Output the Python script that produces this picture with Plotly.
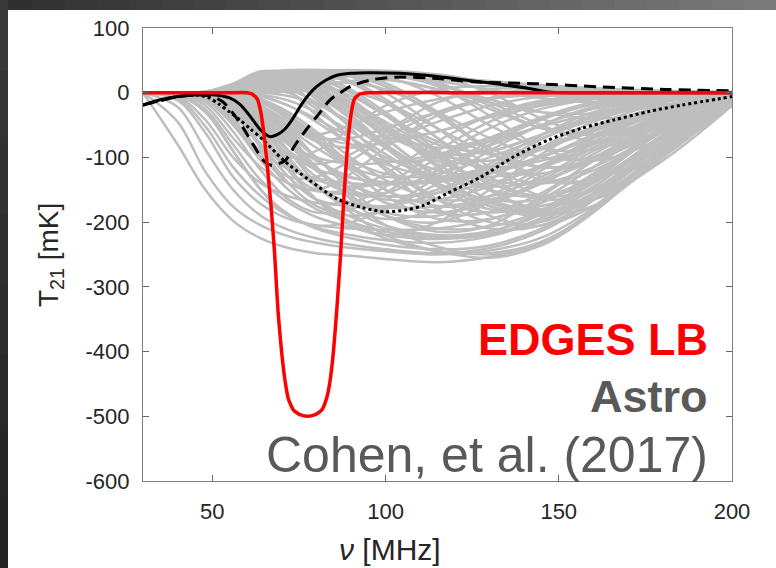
import plotly.graph_objects as go

# ---------------- data ----------------
NU_GRID = [30, 40, 48, 56, 64, 72, 80, 90, 100, 115, 130, 145, 160, 180, 200]

GRAY_FAN = [
    [0, -80, -150, -198, -225, -240, -248, -252, -257, -262, -254, -232, -182, -88, -15],
    [0, -45, -122, -176, -205, -222, -232, -240, -245, -250, -244, -224, -178, -90, -18],
    [0, -22, -88, -150, -190, -212, -225, -235, -242, -248, -240, -214, -166, -80, -12],
    [0, -9, -52, -115, -160, -190, -208, -220, -228, -232, -222, -194, -146, -68, -8],
    [0, -3, -26, -80, -135, -170, -192, -208, -220, -226, -215, -184, -132, -58, -5],
    [0, -1, -11, -50, -105, -150, -180, -200, -215, -225, -220, -198, -156, -80, -16],
    [0, 0, -5, -30, -80, -130, -165, -192, -210, -222, -218, -194, -146, -66, -6],
    [0, 0, -2, -15, -55, -105, -145, -180, -205, -220, -214, -188, -136, -58, -4],
    [0, 0, -1, -8, -35, -80, -120, -160, -190, -210, -207, -182, -130, -52, -3],
    [0, -6, -42, -100, -140, -160, -170, -175, -178, -176, -165, -140, -100, -45, -4],
    [0, -2, -20, -70, -115, -140, -152, -158, -160, -155, -140, -115, -80, -35, -3],
    [0, -1, -10, -45, -90, -118, -132, -140, -142, -138, -125, -100, -70, -30, -2],
    [0, 0, -5, -25, -60, -95, -118, -132, -138, -135, -122, -98, -68, -28, -2],
    [0, -12, -62, -130, -172, -195, -205, -210, -212, -210, -196, -170, -128, -60, -8],
    [0, -3, -30, -90, -150, -188, -210, -225, -235, -242, -236, -210, -165, -82, -10],
    [0, 0, -3, -20, -65, -120, -165, -200, -225, -245, -248, -230, -184, -96, -20],
    [0, 0, -1, -10, -40, -90, -140, -185, -220, -245, -255, -236, -185, -88, -14],
    [0, 0, 0, -5, -25, -65, -115, -165, -205, -238, -250, -232, -182, -85, -12],
]

GRAY_EMISSION = [
    [0, 0, 1, 10, 32, 32, 20, -10, -50, -110, -150, -160, -130, -60, -8],
    [0, 0, 1, 8, 28, 35, 30, 15, -15, -70, -120, -140, -120, -60, -8],
    [0, 0, 0, 4, 20, 34, 35, 28, 10, -35, -85, -115, -105, -55, -6],
    [0, 0, 0, 2, 12, 28, 34, 33, 25, -5, -50, -85, -88, -50, -6],
    [0, 0, 0, 1, 6, 20, 32, 35, 32, 15, -20, -55, -65, -40, -5],
    [0, 0, 1, 12, 33, 25, 0, -40, -85, -145, -180, -180, -145, -70, -10],
    [0, 0, 2, 14, 32, 15, -20, -70, -120, -180, -210, -205, -165, -80, -12],
    [0, 0, 1, 9, 29, 22, -5, -55, -105, -165, -200, -200, -160, -80, -12],
    [0, 0, 1, 7, 24, 30, 20, -10, -50, -115, -165, -180, -150, -75, -10],
    [0, 0, 0, 3, 15, 28, 30, 18, -10, -70, -130, -165, -150, -80, -12],
    [0, 0, 0, 2, 10, 22, 30, 30, 15, -30, -90, -135, -135, -75, -10],
    [0, 0, 0, 1, 5, 15, 26, 32, 30, 10, -35, -85, -105, -70, -10],
    [0, 0, 0, 0, 3, 10, 20, 30, 33, 25, 0, -40, -65, -50, -8],
    [0, 0, 1, 8, 30, 30, 12, -25, -70, -130, -175, -190, -165, -90, -15],
    [0, 0, 0, 5, 22, 34, 28, 5, -30, -90, -150, -185, -175, -100, -18],
    [0, 0, 0, 3, 14, 28, 33, 25, 0, -55, -115, -160, -165, -105, -20],
]

GRAY_POSITIVE = [
    [0, 0, 0, 2, 15, 30, 35, 34, 32, 25, 18, 12, 7, 3, 1],
    [0, 0, 0, 0, 5, 18, 30, 33, 31, 24, 16, 9, 5, 2, 0],
    [0, 0, 1, 8, 28, 34, 33, 30, 26, 20, 15, 10, 6, 3, 1],
    [0, 0, 0, 1, 8, 22, 32, 34, 30, 18, 5, -8, -15, -12, -3],
    [0, 0, 0, 0, 2, 8, 18, 28, 32, 28, 15, 0, -15, -18, -5],
]

GRAY_RECOVER = [
    [0, 0, -2, -20, -70, -100, -90, -55, -20, 5, 10, 8, 5, 2, 0],
    [0, 0, -1, -10, -45, -90, -110, -95, -60, -15, 5, 6, 4, 2, 0],
    [0, -1, -8, -40, -95, -140, -150, -125, -85, -35, -10, -3, 0, 0, 0],
    [0, 0, -3, -25, -70, -120, -150, -150, -125, -75, -35, -12, -4, -1, 0],
    [0, 0, -1, -12, -45, -90, -130, -155, -155, -120, -75, -38, -15, -4, 0],
    [0, 0, 0, -5, -25, -60, -100, -140, -160, -150, -110, -65, -30, -8, -1],
    [0, -2, -15, -60, -120, -165, -185, -180, -155, -100, -55, -25, -10, -3, 0],
    [0, 0, -4, -30, -85, -140, -175, -190, -180, -140, -90, -50, -22, -6, -1],
    [0, 0, -1, -15, -50, -100, -145, -180, -195, -180, -135, -85, -45, -12, -2],
    [0, 0, 0, -6, -30, -70, -115, -160, -190, -200, -170, -120, -70, -22, -3],
    [0, -4, -30, -90, -150, -190, -205, -200, -180, -130, -80, -42, -18, -5, -1],
    [0, 0, -2, -18, -60, -115, -165, -205, -220, -200, -150, -95, -52, -15, -2],
    [0, 0, 0, -4, -20, -55, -100, -150, -190, -215, -205, -160, -105, -38, -5],
    [0, 0, 0, -2, -10, -35, -70, -115, -150, -175, -170, -140, -95, -38, -5],
    [0, 0, 0, 0, -5, -20, -45, -80, -110, -130, -125, -100, -65, -25, -3],
    [0, 0, -1, -8, -30, -55, -70, -70, -55, -30, -10, 0, 2, 1, 0],
    [0, 0, 0, -3, -15, -40, -65, -80, -78, -60, -38, -20, -8, -2, 0],
]

GRAY_DIP = [
    [0, 0, 1, 10, 30, 20, -10, -50, -70, -60, -35, -15, -5, -1, 0],
    [0, 0, 1, 8, 24, 28, 10, -25, -60, -85, -70, -40, -18, -5, -1],
    [0, 0, 2, 12, 30, 5, -35, -80, -105, -100, -70, -38, -15, -4, 0],
    [0, 0, 0, 4, 18, 30, 25, 0, -35, -80, -90, -65, -35, -10, -1],
]

GRAY_MID = [
    [0, 0, -1, -10, -40, -75, -105, -130, -140, -135, -115, -85, -55, -22, -3],
    [0, 0, 0, -4, -20, -45, -75, -105, -125, -130, -115, -88, -58, -24, -3],
    [0, 0, 0, 2, 8, 5, -15, -50, -85, -120, -130, -115, -85, -40, -6],
    [0, 0, 0, 1, 10, 15, 5, -25, -60, -100, -115, -105, -78, -38, -5],
    [0, 0, 0, 3, 18, 25, 15, -15, -55, -105, -135, -140, -115, -60, -9],
    [0, 0, -2, -15, -50, -90, -120, -150, -165, -165, -145, -112, -75, -30, -4],
    [0, 0, -1, -6, -30, -65, -100, -140, -170, -185, -170, -135, -90, -36, -5],
    [0, 0, 0, -3, -15, -40, -75, -120, -160, -195, -195, -165, -115, -48, -7],
    [0, 0, 0, 1, 4, 0, -25, -70, -115, -165, -185, -170, -125, -55, -8],
    [0, 0, 0, 2, 12, 18, 8, -25, -70, -130, -170, -175, -140, -65, -10],
    [0, 0, 0, 0, 2, 6, 4, -15, -45, -90, -120, -125, -100, -50, -7],
    [0, 0, 0, 0, 0, 2, 5, 2, -15, -55, -95, -115, -105, -58, -9],
    [0, 0, 0, 0, 1, 5, 12, 15, 5, -30, -70, -100, -100, -60, -10],
    [0, 0, 0, 0, 0, 3, 10, 18, 20, 5, -25, -55, -65, -45, -8],
    [0, 0, -1, -12, -45, -80, -100, -110, -108, -95, -75, -52, -32, -12, -2],
    [0, 0, 0, -5, -25, -55, -85, -115, -130, -125, -100, -70, -42, -15, -2],
    [0, -1, -6, -35, -80, -115, -135, -145, -140, -115, -82, -50, -25, -8, -1],
    [0, 0, -2, -20, -65, -110, -145, -170, -175, -155, -115, -72, -38, -12, -2],
    [0, 0, 0, -8, -35, -75, -115, -160, -185, -190, -160, -115, -70, -25, -3],
    [0, 0, 0, -2, -12, -35, -65, -110, -150, -185, -185, -155, -105, -42, -6],
    [0, 0, 0, 2, 10, 10, -5, -40, -80, -140, -175, -185, -155, -75, -12],
    [0, 0, 1, 6, 22, 20, 0, -35, -80, -140, -190, -205, -175, -90, -15],
    [0, 0, 0, 2, 14, 26, 22, 0, -35, -95, -150, -180, -165, -95, -17],
    [0, 0, 0, 0, 4, 14, 24, 25, 10, -35, -90, -130, -135, -85, -14],
    [0, 0, 0, 0, 1, 6, 16, 26, 28, 15, -15, -50, -75, -60, -10],
    [0, 0, 0, 0, 2, 10, 22, 30, 28, 12, -10, -30, -40, -30, -5],
    [0, 0, 0, 1, 8, 24, 32, 30, 22, 5, -15, -30, -32, -20, -3],
    [0, 0, 0, 0, 3, 12, 25, 33, 34, 28, 15, 2, -8, -10, -3],
    [0, 0, -1, -8, -35, -60, -65, -50, -30, -10, 0, 3, 3, 1, 0],
    [0, 0, 0, -3, -20, -50, -75, -85, -75, -45, -20, -6, -1, 0, 0],
    [0, -1, -10, -45, -100, -130, -130, -105, -70, -30, -8, 0, 1, 0, 0],
    [0, 0, -3, -25, -80, -130, -165, -170, -145, -90, -45, -18, -6, -1, 0],
    [0, 0, 0, -2, -10, -30, -60, -100, -135, -165, -160, -130, -85, -32, -4],
    [0, 0, 0, 3, 16, 22, 10, -20, -55, -95, -105, -85, -55, -20, -3],
    [0, 0, 1, 8, 26, 25, 5, -30, -65, -95, -90, -65, -38, -13, -2],
    [0, 0, 0, 1, 6, 14, 12, -5, -35, -75, -95, -85, -60, -25, -4],
    [0, 0, 0, -1, -6, -20, -40, -70, -100, -130, -145, -135, -105, -50, -8],
    [0, 0, 0, 0, -3, -12, -30, -60, -95, -140, -165, -165, -135, -70, -12],
    [0, 0, 0, 0, 0, -5, -18, -45, -80, -130, -170, -185, -165, -95, -18],
    [0, 0, 0, 1, 5, 8, 2, -20, -50, -100, -140, -160, -150, -90, -16],
]

SOLID_NU = [30, 35, 40, 46, 50, 55, 58, 61, 64, 66.7, 69, 71, 73, 76, 78, 80, 83, 86,
            90, 95, 104, 115, 124, 133, 141, 147, 155, 200]
SOLID_T = [-19, -11, -6, -3, -3, -8, -18, -37, -58, -68, -64, -56, -42, -16, -2, 9, 20, 27,
           30, 31, 30, 25, 19, 13, 7, 1, 0, 0]

DASH_NU = [30, 40, 46, 50, 53, 56, 59, 62, 65, 67, 69, 71, 74, 77, 80, 84, 87, 90, 96,
           103, 115, 125, 143, 162, 181, 200]
DASH_T = [-19, -6, -3, -6, -14, -32, -55, -82, -106, -112, -110, -105, -80, -58, -38, -11,
          0, 10, 20, 24, 22, 17, 14, 9, 5, 3]

DOT_NU = [30, 40, 46, 49, 52, 55, 58, 61, 64.7, 70.5, 78, 86, 93.6, 100, 106, 111, 118,
          127.6, 137, 147, 156.6, 166, 176, 185.6, 200]
DOT_T = [-19, -6, -4, -8, -18, -30, -42, -56, -73, -104, -135, -164, -178, -184, -181, -174,
         -155, -130, -99, -73, -55, -42, -29, -19, -6]

EDGES_NU = [30, 55, 60, 61.5, 63, 64, 65, 66, 67, 68, 69, 70, 71, 72, 73.5, 75.5, 77.5, 79.5,
            81.5, 83, 84, 85, 86, 87, 88, 89, 90, 91, 92.5, 95, 120, 200]
EDGES_T = [0, 0, 0, -2, -10, -30, -68, -120, -178, -250, -340, -400, -445, -474, -491, -498,
           -500, -498, -491, -472, -445, -398, -330, -253, -160, -85, -35, -10, -2, 0, 0, 0]

X_TICKS = [50, 100, 150, 200]
Y_TICKS = [100, 0, -100, -200, -300, -400, -500, -600]

# ---------------- figure ----------------
fig = go.Figure()

GRAY = "#BEBEBE"
for group in (GRAY_FAN, GRAY_EMISSION, GRAY_POSITIVE, GRAY_RECOVER, GRAY_DIP, GRAY_MID):
    for curve in group:
        fig.add_trace(go.Scatter(x=NU_GRID, y=curve, mode="lines",
                                 line=dict(color=GRAY, width=2.5, shape="spline", smoothing=1.0),
                                 hoverinfo="skip"))

fig.add_trace(go.Scatter(x=DOT_NU, y=DOT_T, mode="lines",
                         line=dict(color="black", width=3, dash="dot", shape="spline", smoothing=0.8)))
fig.add_trace(go.Scatter(x=DASH_NU, y=DASH_T, mode="lines",
                         line=dict(color="black", width=3, dash="12px,7px", shape="spline", smoothing=0.8)))
fig.add_trace(go.Scatter(x=SOLID_NU, y=SOLID_T, mode="lines",
                         line=dict(color="black", width=3, shape="spline", smoothing=0.8)))
fig.add_trace(go.Scatter(x=EDGES_NU, y=EDGES_T, mode="lines",
                         line=dict(color="#FF0000", width=3.5, shape="spline", smoothing=0.5)))

# plot-area geometry in pixels
W, H = 776, 568
L, R, T, B = 143, 732, 28, 481


def px_x(p):
    return (p - L) / (R - L)


def px_y(p):
    return (B - p) / (B - T)


shapes = []
# dark frame: top gradient band and left strip
n = 24
for i in range(n):
    x0 = W * i / n
    x1 = W * (i + 1) / n + 1
    v = int(0x30 + (0x7a - 0x30) * i / (n - 1))
    col = "#%02x%02x%02x" % (v, v, v)
    shapes.append(dict(type="rect", xref="paper", yref="paper",
                       x0=px_x(x0), x1=px_x(x1), y0=px_y(10), y1=px_y(-2),
                       fillcolor=col, line=dict(width=0), layer="below"))
m = 8
for i in range(m):
    y0 = H * i / m
    y1 = H * (i + 1) / m + 1
    v = int(0x38 - (0x38 - 0x24) * i / (m - 1))
    col = "#%02x%02x%02x" % (v, v, v)
    shapes.append(dict(type="rect", xref="paper", yref="paper",
                       x0=px_x(-2), x1=px_x(8), y0=px_y(y1), y1=px_y(y0),
                       fillcolor=col, line=dict(width=0), layer="below"))

FONT = "Arial, Liberation Sans, sans-serif"
TICKFONT = dict(family=FONT, size=22, color="#262626")

fig.update_layout(
    width=W, height=H,
    margin=dict(l=L, r=W - R, t=T, b=H - B, autoexpand=False),
    paper_bgcolor="white", plot_bgcolor="white",
    showlegend=False,
    shapes=shapes,
    xaxis=dict(range=[30, 200], tickvals=X_TICKS, ticktext=[str(v) for v in X_TICKS],
               ticks="inside", ticklen=6, tickcolor="#666666", tickwidth=1,
               showline=True, linecolor="#7f7f7f", linewidth=1.2, mirror="ticks",
               showgrid=False, zeroline=False, tickfont=TICKFONT, ticklabelstandoff=10),
    yaxis=dict(range=[-600, 100], tickvals=Y_TICKS, ticktext=[str(v) for v in Y_TICKS],
               ticks="inside", ticklen=6, tickcolor="#666666", tickwidth=1,
               showline=True, linecolor="#7f7f7f", linewidth=1.2, mirror="ticks",
               showgrid=False, zeroline=False, tickfont=TICKFONT, ticklabelstandoff=8),
    annotations=[
        dict(text="<i>ν</i> [MHz]", xref="paper", yref="paper", x=px_x(390), y=px_y(549),
             xanchor="center", yanchor="middle", showarrow=False,
             font=dict(family=FONT, size=30, color="#262626")),
        dict(text="T<sub>21</sub> [mK]", xref="paper", yref="paper", x=px_x(50), y=px_y(255),
             xanchor="center", yanchor="middle", showarrow=False, textangle=-90,
             font=dict(family=FONT, size=28, color="#262626")),
        dict(text="<b>EDGES LB</b>", xref="paper", yref="paper", x=px_x(710), y=px_y(339),
             xanchor="right", yanchor="middle", showarrow=False,
             font=dict(family=FONT, size=45, color="#FF0000")),
        dict(text="<b>Astro</b>", xref="paper", yref="paper", x=px_x(710), y=px_y(396),
             xanchor="right", yanchor="middle", showarrow=False,
             font=dict(family=FONT, size=45, color="#595959")),
        dict(text="Cohen, et al. (2017)", xref="paper", yref="paper", x=px_x(710), y=px_y(455),
             xanchor="right", yanchor="middle", showarrow=False,
             font=dict(family=FONT, size=50, color="#595959")),
    ],
)

fig.write_html("out.html")
